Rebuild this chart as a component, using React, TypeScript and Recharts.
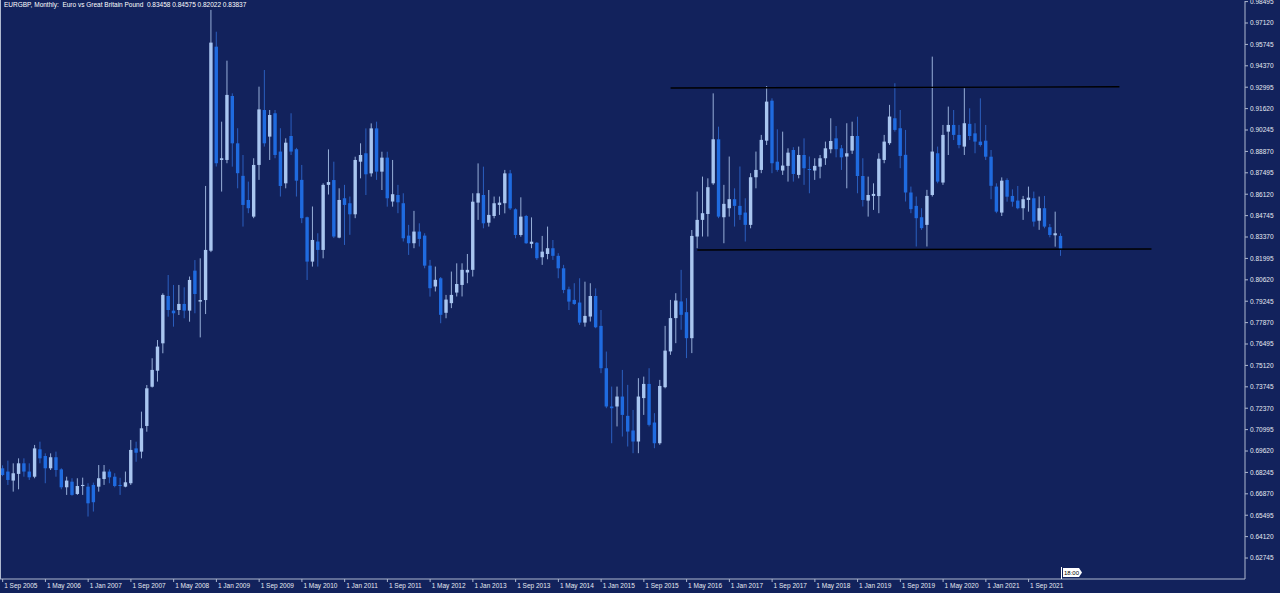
import React from "react";
import { ComposedChart, Bar, XAxis, YAxis, ReferenceLine } from "recharts";

// monthly candles, first one is Sep 2005, last one is Mar 2022
const opens = [
  0.6851, 0.683, 0.6772, 0.6815,
  0.6883, 0.683, 0.6797, 0.6973, 0.693, 0.6851, 0.6922, 0.6844, 0.6729, 0.6765, 0.6686, 0.6737,
  0.6733, 0.6744, 0.6733, 0.6782, 0.683, 0.6797, 0.6744, 0.6733, 0.6755, 0.6979, 0.6958, 0.7123,
  0.7375, 0.7478, 0.7654, 0.7958, 0.7864, 0.7868, 0.7907, 0.7864, 0.8121, 0.7922, 0.7932, 0.8249,
  0.956, 0.8832, 0.8832, 0.9243, 0.8939, 0.873, 0.8575, 0.8468, 0.88, 0.9153, 0.8982, 0.9132,
  0.8886, 0.8682, 0.8986, 0.8901, 0.8704, 0.8464, 0.8179, 0.8308, 0.8254, 0.8672, 0.8703, 0.8333,
  0.8586, 0.8554, 0.8483, 0.8821, 0.8875, 0.8746, 0.9035, 0.8757, 0.8847, 0.8565, 0.8607, 0.8554,
  0.8346, 0.8297, 0.8372, 0.8346, 0.8153, 0.8019, 0.8072, 0.785, 0.7912, 0.798, 0.8029, 0.8109,
  0.8126, 0.8558, 0.8607, 0.8429, 0.8472, 0.8543, 0.8554, 0.8746, 0.8515, 0.835, 0.8472, 0.8293,
  0.83, 0.8207, 0.8228, 0.8265, 0.8216, 0.8136, 0.8001, 0.7933, 0.7916, 0.7787, 0.7826, 0.7958,
  0.7766, 0.7494, 0.7248, 0.7248, 0.7312, 0.7188, 0.7094, 0.7023, 0.7302, 0.7393, 0.7145, 0.7012,
  0.7372, 0.7602, 0.7816, 0.7923, 0.7854, 0.7687, 0.834, 0.8447, 0.8485, 0.8682, 0.8965, 0.8464,
  0.8522, 0.858, 0.8537, 0.8494, 0.8415, 0.8721, 0.8768, 0.8956, 0.9213, 0.8821, 0.8764, 0.8794,
  0.8896, 0.8736, 0.8864, 0.8774, 0.8764, 0.8789, 0.8843, 0.8901, 0.8971, 0.8907, 0.8854, 0.8892,
  0.8986, 0.8729, 0.8571, 0.8601, 0.86, 0.8832, 0.894, 0.91, 0.9036, 0.8865, 0.8623, 0.8537,
  0.8464, 0.8415, 0.8607, 0.8875, 0.8687, 0.9014, 0.9057, 0.8993, 0.8918, 0.9064, 0.9003, 0.895,
  0.8956, 0.8853, 0.8661, 0.8494, 0.8703, 0.8601, 0.8571, 0.8522, 0.8575, 0.8586, 0.8442, 0.8522,
  0.84, 0.8348, 0.8344,
];

const highs = [
  0.687, 0.69, 0.6883, 0.6915,
  0.6915, 0.6883, 0.7001, 0.7022, 0.6947, 0.6947, 0.6958, 0.6851, 0.6797, 0.6787, 0.6787, 0.6791,
  0.6755, 0.6759, 0.6872, 0.6872, 0.6844, 0.6819, 0.679, 0.683, 0.7033, 0.7022, 0.7215, 0.7386,
  0.7558, 0.7675, 0.7975, 0.8093, 0.8029, 0.8029, 0.8014, 0.8083, 0.8189, 0.82, 0.8665, 0.9796,
  0.9656, 0.9078, 0.947, 0.926, 0.9036, 0.8864, 0.8693, 0.8843, 0.9303, 0.941, 0.9153, 0.9153,
  0.9036, 0.8971, 0.9132, 0.891, 0.88, 0.8468, 0.8533, 0.8361, 0.8682, 0.89, 0.8821, 0.865,
  0.8672, 0.8597, 0.8853, 0.8939, 0.9035, 0.9067, 0.9078, 0.8885, 0.8885, 0.8832, 0.8672, 0.8618,
  0.8415, 0.8505, 0.8425, 0.8361, 0.819, 0.8147, 0.808, 0.7965, 0.8115, 0.8168, 0.8168, 0.8228,
  0.8618, 0.881, 0.8789, 0.8639, 0.8597, 0.8597, 0.8768, 0.8768, 0.8521, 0.8592, 0.8479, 0.8463,
  0.8305, 0.8344, 0.8404, 0.8318, 0.8233, 0.8158, 0.8018, 0.804, 0.8072, 0.805, 0.804, 0.8007,
  0.7868, 0.7601, 0.7376, 0.7376, 0.7483, 0.7387, 0.7226, 0.743, 0.744, 0.7494, 0.7205, 0.7419,
  0.7766, 0.7933, 0.7976, 0.8126, 0.7944, 0.8382, 0.8629, 0.8725, 0.8714, 0.926, 0.9046, 0.8672,
  0.8854, 0.865, 0.879, 0.8586, 0.8747, 0.8886, 0.8993, 0.9307, 0.9228, 0.9029, 0.9014, 0.8907,
  0.8914, 0.8918, 0.8971, 0.8854, 0.8843, 0.8864, 0.895, 0.91, 0.905, 0.8928, 0.9068, 0.9078,
  0.911, 0.8843, 0.8725, 0.8682, 0.8875, 0.8993, 0.9186, 0.9325, 0.9153, 0.9025, 0.8661, 0.8597,
  0.8522, 0.864, 0.9496, 0.8918, 0.9057, 0.9175, 0.9153, 0.9057, 0.9293, 0.9164, 0.9068, 0.9228,
  0.9057, 0.8896, 0.8682, 0.872, 0.8714, 0.8643, 0.8665, 0.8601, 0.8661, 0.8629, 0.8597, 0.8601,
  0.8421, 0.85, 0.8361,
];

const lows = [
  0.68, 0.6744, 0.6701, 0.6716,
  0.6797, 0.6776, 0.6787, 0.6883, 0.6755, 0.684, 0.6797, 0.6716, 0.668, 0.6675, 0.668, 0.668,
  0.6541, 0.6573, 0.6701, 0.6744, 0.6755, 0.6729, 0.668, 0.6729, 0.6744, 0.6893, 0.6915, 0.7086,
  0.737, 0.7408, 0.759, 0.7825, 0.7761, 0.7836, 0.7815, 0.7793, 0.7847, 0.7692, 0.7842, 0.824,
  0.879, 0.8629, 0.8811, 0.8789, 0.865, 0.8404, 0.849, 0.8458, 0.8704, 0.8918, 0.8832, 0.8843,
  0.8597, 0.865, 0.8864, 0.8597, 0.8426, 0.8061, 0.8147, 0.8147, 0.82, 0.861, 0.833, 0.8329,
  0.8286, 0.8351, 0.8458, 0.8714, 0.8607, 0.8725, 0.8704, 0.8639, 0.8532, 0.8532, 0.849, 0.8308,
  0.8222, 0.8265, 0.8276, 0.8136, 0.7954, 0.7987, 0.7783, 0.7815, 0.788, 0.7955, 0.7955, 0.804,
  0.8083, 0.8447, 0.8393, 0.8404, 0.8457, 0.8479, 0.8489, 0.8511, 0.8329, 0.8339, 0.8293, 0.8265,
  0.819, 0.8158, 0.8194, 0.819, 0.8072, 0.7976, 0.7868, 0.7901, 0.7772, 0.7761, 0.7794, 0.7751,
  0.7462, 0.7237, 0.7012, 0.712, 0.7055, 0.6991, 0.6948, 0.6948, 0.7194, 0.712, 0.698, 0.7002,
  0.7365, 0.758, 0.7655, 0.7741, 0.7559, 0.7591, 0.8265, 0.834, 0.834, 0.8672, 0.8458, 0.8297,
  0.8468, 0.8404, 0.8447, 0.8308, 0.8393, 0.865, 0.8747, 0.8928, 0.8747, 0.8757, 0.8736, 0.8693,
  0.8693, 0.8714, 0.8672, 0.8618, 0.8704, 0.8714, 0.88, 0.8875, 0.8849, 0.8768, 0.865, 0.8871,
  0.8618, 0.8533, 0.8468, 0.8511, 0.849, 0.8811, 0.8929, 0.9014, 0.8779, 0.8565, 0.849, 0.8276,
  0.8383, 0.8276, 0.8597, 0.8682, 0.8672, 0.8864, 0.896, 0.8907, 0.8864, 0.896, 0.8875, 0.8918,
  0.8832, 0.858, 0.849, 0.8472, 0.8564, 0.8532, 0.8515, 0.8447, 0.85, 0.8404, 0.8383, 0.8393,
  0.8335, 0.8275, 0.8216,
];

const closes = [
  0.6808, 0.6776, 0.6819, 0.6883,
  0.683, 0.6793, 0.6979, 0.6915, 0.6851, 0.6922, 0.684, 0.6729, 0.6772, 0.668, 0.6737, 0.6744,
  0.6626, 0.6633, 0.6787, 0.683, 0.6793, 0.6737, 0.6737, 0.6761, 0.6969, 0.6951, 0.7108, 0.7365,
  0.7483, 0.7633, 0.7965, 0.7868, 0.7847, 0.7907, 0.7864, 0.8061, 0.7971, 0.7932, 0.8254, 0.9586,
  0.8811, 0.8843, 0.925, 0.8939, 0.8747, 0.8543, 0.8522, 0.88, 0.9157, 0.8939, 0.9121, 0.8864,
  0.8665, 0.8943, 0.8886, 0.8699, 0.8458, 0.8179, 0.8318, 0.8254, 0.8672, 0.869, 0.834, 0.8575,
  0.8543, 0.8483, 0.8832, 0.8864, 0.874, 0.9035, 0.8757, 0.8847, 0.8586, 0.8612, 0.856, 0.8329,
  0.8297, 0.8372, 0.8325, 0.8153, 0.8008, 0.8062, 0.7837, 0.7935, 0.7965, 0.8035, 0.8126, 0.8126,
  0.8564, 0.8618, 0.8425, 0.8479, 0.8554, 0.8558, 0.8746, 0.8521, 0.835, 0.8468, 0.8297, 0.8307,
  0.8201, 0.8243, 0.8265, 0.8216, 0.8136, 0.7997, 0.7922, 0.7907, 0.7787, 0.783, 0.7958, 0.7757,
  0.7494, 0.7248, 0.7237, 0.7312, 0.7194, 0.7087, 0.7023, 0.7312, 0.7393, 0.713, 0.7012, 0.738,
  0.7607, 0.7816, 0.7929, 0.7837, 0.7687, 0.8344, 0.8447, 0.849, 0.8657, 0.8965, 0.8468, 0.855,
  0.858, 0.8537, 0.8479, 0.8415, 0.8721, 0.8768, 0.8961, 0.9207, 0.8811, 0.8768, 0.8796, 0.8879,
  0.8742, 0.8864, 0.8779, 0.8768, 0.8794, 0.8843, 0.8907, 0.8954, 0.8901, 0.8849, 0.8875, 0.8986,
  0.8729, 0.8575, 0.8607, 0.8614, 0.884, 0.895, 0.9111, 0.9025, 0.8858, 0.8623, 0.8516, 0.8458,
  0.8394, 0.8601, 0.8886, 0.8693, 0.8993, 0.9057, 0.8993, 0.8928, 0.9068, 0.8986, 0.895, 0.8928,
  0.8853, 0.8666, 0.85, 0.8699, 0.8596, 0.8564, 0.8522, 0.858, 0.859, 0.8436, 0.8522, 0.8404,
  0.835, 0.8361, 0.8254,
];

const priceTicks = [
  0.62745, 0.6412, 0.65495, 0.6687, 0.68245, 0.6962, 0.70995, 0.7237, 0.73745,
  0.7512, 0.76495, 0.7787, 0.79245, 0.8062, 0.81995, 0.8337, 0.84745, 0.8612,
  0.87495, 0.8887, 0.90245, 0.9162, 0.92995, 0.9437, 0.95745, 0.9712, 0.98495,
];

// hand drawn trend lines
const resistance = [
  { x: "1 Feb 2016", y: 0.9294 },
  { x: "1 Feb 2023", y: 0.9302 },
];
const support = [
  { x: "1 Jul 2016", y: 0.8254 },
  { x: "1 Aug 2023", y: 0.826 },
];

const monthNames = ["Jan", "Feb", "Mar", "Apr", "May", "Jun", "Jul", "Aug", "Sep", "Oct", "Nov", "Dec"];
const SLOTS = 233; // empty months on the right (chart shift)

const months = Array.from({ length: SLOTS }, (_, i) => {
  const m = 8 + i;
  return `1 ${monthNames[m % 12]} ${2005 + Math.floor(m / 12)}`;
});
const dated = new Set(months.slice(0, opens.length));

const data = months.map((name, i) =>
  i < opens.length
    ? { name, open: opens[i], high: highs[i], low: lows[i], close: closes[i], range: [lows[i], highs[i]] }
    : { name }
);

const BG = "#12225c";
const AXIS = "#aeb8cf";
const TEXT = "#e6eaf2";
const FONT = "'Liberation Sans', Arial, sans-serif";

const Candle = (props: any) => {
  const { x, y, width, height, payload } = props;
  if (!payload || payload.open == null) return null;
  const { open, close, high, low } = payload;
  const cx = x + width / 2;
  const k = high > low ? height / (high - low) : 0;
  const yo = y + (high - open) * k;
  const yc = y + (high - close) * k;
  const up = close >= open;
  return (
    <g>
      <line x1={cx} x2={cx} y1={y} y2={y + height} stroke={up ? "#97afd8" : "#2b5fbf"} strokeWidth={1} />
      <rect
        x={cx - 1.7}
        y={Math.min(yo, yc)}
        width={3.4}
        height={Math.max(Math.abs(yo - yc), 1)}
        fill={up ? "#a9c6f0" : "#1f6be0"}
      />
    </g>
  );
};

const DateTick = (props: any) => {
  const { x, y, payload } = props;
  if (!dated.has(payload.value)) return <g />;
  return (
    <g>
      <line x1={x} x2={x} y1={y} y2={y + 3} stroke={AXIS} />
      <text x={x + 1.5} y={y + 8.5} fill={TEXT} fontSize={6.5} fontFamily={FONT}>
        {payload.value}
      </text>
    </g>
  );
};

export default function App() {
  return (
    <div style={{ position: "fixed", left: 0, top: 0, width: 1280, height: 593, background: BG, overflow: "hidden" }}>
      <ComposedChart width={1280} height={593} data={data} margin={{ top: 1, right: 0, bottom: 0, left: 0 }}>
        <XAxis
          dataKey="name"
          interval={7}
          height={14}
          tickSize={0}
          tickMargin={0}
          tickLine={false}
          axisLine={{ stroke: AXIS }}
          tick={<DateTick />}
        />
        <YAxis
          orientation="right"
          type="number"
          width={35}
          domain={[0.61397, 0.98534]}
          allowDataOverflow
          ticks={priceTicks}
          interval={0}
          tickSize={3}
          tickMargin={2}
          axisLine={{ stroke: AXIS }}
          tickLine={{ stroke: AXIS }}
          tick={{ fill: TEXT, fontSize: 6.5, fontFamily: FONT }}
          tickFormatter={(v: number) => v.toFixed(5)}
        />
        <Bar dataKey="range" shape={Candle} isAnimationActive={false} />
        <ReferenceLine segment={resistance} stroke="#000" strokeWidth={1.4} />
        <ReferenceLine segment={support} stroke="#000" strokeWidth={1.4} />
      </ComposedChart>
      <div style={{ position: "absolute", left: 0, top: 0, width: 1, height: 579, background: AXIS }} />
      <div
        style={{
          position: "absolute",
          left: 4,
          top: 1,
          color: "#ffffff",
          fontFamily: FONT,
          fontSize: 6.5,
          whiteSpace: "pre",
        }}
      >
        {"EURGBP, Monthly:  Euro vs Great Britain Pound  0.83458 0.84575 0.82022 0.83837"}
      </div>
      <svg style={{ position: "absolute", left: 1058, top: 566 }} width={28} height={14}>
        <line x1={3.5} x2={3.5} y1={1} y2={13} stroke="#ffffff" />
        <path d="M5 2 H21 L24 6.5 L21 11 H5 Z" fill="#ffffff" />
        <text x={6} y={9} fontSize={6} fontFamily={FONT} fill="#000">
          18:00
        </text>
      </svg>
    </div>
  );
}
